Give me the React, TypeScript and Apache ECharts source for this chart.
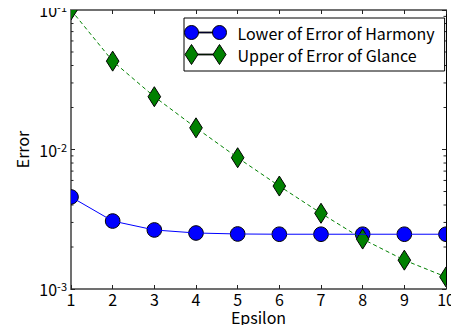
import React, { useEffect, useRef } from "react";
import * as echarts from "echarts";

const epsilon = [1, 2, 3, 4, 5, 6, 7, 8, 9, 10];
const harmonyLower = [0.00457, 0.00307, 0.00265, 0.00252, 0.00248, 0.00247, 0.00247, 0.00247, 0.00247, 0.00247];
const glanceUpper = [0.1, 0.043, 0.0239, 0.0143, 0.00873, 0.00547, 0.00349, 0.00228, 0.00161, 0.00122];
const yMinorTicks = [
  0.002, 0.003, 0.004, 0.005, 0.006, 0.007, 0.008, 0.009,
  0.02, 0.03, 0.04, 0.05, 0.06, 0.07, 0.08, 0.09,
];
const seriesNames = ["Lower of Error of Harmony", "Upper of Error of Glance"];
const xName = "Epsilon";
const yName = "Error";

const FONT = "'Noto Sans CJK JP', 'Noto Sans', sans-serif";
const FS = 16;
const SPINE = "#707070";
const TICK = "#222";
const BLUE = "#0000ff";
const GREEN = "#008000";

const circleIcon =
  "path://M0,0M42,20M0,10a7,7 0 1,0 14,0a7,7 0 1,0 -14,0ZM14,9.6h14v0.8h-14ZM28,10a7,7 0 1,0 14,0a7,7 0 1,0 -14,0Z";
const diamondIcon =
  "path://M0,0M42,20M7,0L13.5,10L7,20L0.5,10ZM13.5,9.6h15v0.8h-15ZM35,0L41.5,10L35,20L28.5,10Z";

export default function App() {
  const ref = useRef<HTMLDivElement>(null);
  useEffect(() => {
    if (!ref.current) return;
    const chart = echarts.init(ref.current, null, { renderer: "svg" });
    const harmonyData = epsilon.map((x, i) => [x, harmonyLower[i]]);
    const glanceData = epsilon.map((x, i) => [x, glanceUpper[i]]);
    const axisCommonX = {
      type: "value",
      min: 1,
      max: 10,
      interval: 1,
      splitLine: { show: false },
      axisLine: { show: true, onZero: false, lineStyle: { color: SPINE, width: 2 } },
      axisTick: { show: true, inside: true, length: 4, lineStyle: { color: TICK } },
    };
    const axisCommonY = {
      type: "log",
      logBase: 10,
      min: 0.001,
      max: 0.1,
      splitLine: { show: false },
      axisLine: { show: true, onZero: false, lineStyle: { color: SPINE, width: 2 } },
      axisTick: { show: true, inside: true, length: 4, lineStyle: { color: TICK } },
    };
    chart.setOption({
      animation: false,
      backgroundColor: "#fff",
      textStyle: { fontFamily: FONT },
      grid: { left: 71, right: 13, top: 10, bottom: 44, containLabel: false },
      legend: {
        orient: "vertical",
        left: 184,
        top: 18,
        padding: [4, 10, 6, 0],
        itemGap: 1,
        itemWidth: 42,
        itemHeight: 20,
        backgroundColor: "#fff",
        borderColor: "#000",
        borderWidth: 1,
        borderRadius: 0,
        itemStyle: { borderColor: "#000", borderWidth: 1 },
        textStyle: { fontFamily: FONT, fontSize: FS, color: "#000", padding: [0, 0, 0, 6] },
        data: [
          { name: seriesNames[0], icon: circleIcon },
          { name: seriesNames[1], icon: diamondIcon },
        ],
      },
      xAxis: [
        {
          ...axisCommonX,
          position: "bottom",
          name: xName,
          nameLocation: "middle",
          nameGap: 21,
          nameMoveOverlap: false,
          nameTextStyle: { fontFamily: FONT, fontSize: FS, color: "#000", lineHeight: 14 },
          axisLabel: { fontFamily: FONT, fontSize: FS, color: "#000", margin: 4, lineHeight: 12 },
        },
        {
          ...axisCommonX,
          position: "top",
          axisLabel: { show: false },
        },
      ],
      yAxis: [
        {
          ...axisCommonY,
          position: "left",
          name: yName,
          nameLocation: "middle",
          nameGap: 41,
          nameMoveOverlap: false,
          nameRotate: 90,
          nameTextStyle: { fontFamily: FONT, fontSize: FS, color: "#000" },
          axisLabel: {
            margin: 4,
            formatter: (v: number) => `{b|10}{s|${Math.round(Math.log10(v))}}`,
            rich: {
              b: { fontFamily: FONT, fontSize: FS, color: "#000", lineHeight: 14, verticalAlign: "middle" },
              s: { fontFamily: FONT, fontSize: 11, color: "#000", lineHeight: 10, verticalAlign: "middle", padding: [0, 0, 6, 0] },
            },
          },
        },
        {
          type: "log",
          logBase: 10,
          min: 0.001,
          max: 0.1,
          position: "right",
          splitLine: { show: false },
          axisLine: { show: true, onZero: false, lineStyle: { color: "#000", width: 1 } },
          axisTick: { show: true, inside: true, length: 4, lineStyle: { color: TICK } },
          axisLabel: { show: false },
        },
      ],
      series: [
        {
          type: "custom",
          name: "minor",
          silent: true,
          clip: false,
          xAxisIndex: 0,
          yAxisIndex: 0,
          data: yMinorTicks.map((v) => [1, v]),
          renderItem: (params: any, api: any) => {
            const v = api.value(1);
            const l = api.coord([1, v]);
            const r = api.coord([10, v]);
            return {
              type: "group",
              children: [
                { type: "line", shape: { x1: l[0], y1: l[1], x2: l[0] + 2.5, y2: l[1] }, style: { stroke: TICK, lineWidth: 1 } },
                { type: "line", shape: { x1: r[0], y1: r[1], x2: r[0] - 2.5, y2: r[1] }, style: { stroke: TICK, lineWidth: 1 } },
              ],
            };
          },
        },
        {
          type: "line",
          name: seriesNames[0],
          data: harmonyData,
          symbol: "none",
          clip: true,
          color: BLUE,
          itemStyle: { color: BLUE },
          lineStyle: { color: BLUE, width: 1 },
        },
        {
          type: "custom",
          name: seriesNames[0],
          clip: true,
          data: harmonyData,
          renderItem: (params: any, api: any) => {
            const p = api.coord([api.value(0), api.value(1)]);
            return {
              type: "circle",
              shape: { cx: p[0], cy: p[1], r: 7.3 },
              style: { fill: BLUE, stroke: "#000", lineWidth: 1 },
            };
          },
        },
        {
          type: "line",
          name: seriesNames[1],
          data: glanceData,
          symbol: "none",
          clip: true,
          color: GREEN,
          itemStyle: { color: GREEN },
          lineStyle: { color: GREEN, width: 1, type: [4, 3] },
        },
        {
          type: "custom",
          name: seriesNames[1],
          clip: true,
          data: glanceData,
          renderItem: (params: any, api: any) => {
            const p = api.coord([api.value(0), api.value(1)]);
            const w = 6.3;
            const h = 10;
            return {
              type: "polygon",
              shape: {
                points: [
                  [p[0], p[1] - h],
                  [p[0] + w, p[1]],
                  [p[0], p[1] + h],
                  [p[0] - w, p[1]],
                ],
              },
              style: { fill: GREEN, stroke: "#000", lineWidth: 1 },
            };
          },
        },
      ],
    });
    return () => chart.dispose();
  }, []);
  return <div ref={ref} style={{ width: 459, height: 333, margin: -8 }} />;
}
